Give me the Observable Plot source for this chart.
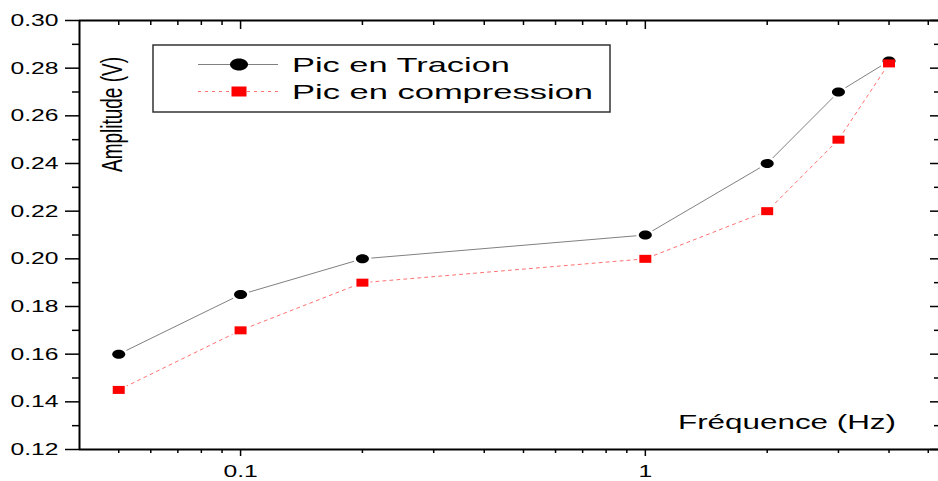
<!DOCTYPE html>
<html><head><meta charset="utf-8">
<script src="https://cdn.jsdelivr.net/npm/d3@7"></script>
<script src="https://cdn.jsdelivr.net/npm/@observablehq/plot@0.6"></script>
<style>body{margin:0;background:#fff}</style>
</head><body><div id="chart"></div>
<script>
const frequencies = [0.05, 0.1, 0.2, 1, 2, 3, 4];
const tractionPeak = [0.160, 0.185, 0.200, 0.210, 0.240, 0.270, 0.283];
const compressionPeak = [0.145, 0.170, 0.190, 0.200, 0.220, 0.250, 0.282];
const seriesNames = ["Pic en Tracion", "Pic en compression"];
const yMajorTicks = [0.12, 0.14, 0.16, 0.18, 0.20, 0.22, 0.24, 0.26, 0.28, 0.30];
const yMinorTicks = [0.13, 0.15, 0.17, 0.19, 0.21, 0.23, 0.25, 0.27, 0.29];
const xMajorTicks = [0.1, 1];
const xTickLabels = ["0.1", "1"];
const xMinorTicks = [0.05, 0.06, 0.07, 0.08, 0.09, 0.2, 0.3, 0.4, 0.5, 0.6, 0.7, 0.8, 0.9, 2, 3, 4, 5];
const xTitle = "Fréquence (Hz)";
const yTitle = "Amplitude (V)";

const W = 938, H = 481, mL = 79, mR = 0, mT = 20, mB = 32;
const FW = W - mL - mR, FH = H - mT - mB;
const xDomain = [0.04, 5.3], yDomain = [0.12, 0.30];
const FONT = "'Liberation Sans', Arial, Helvetica, sans-serif";

function ellipse(rx, ry) {
  const k = 0.5523;
  return {draw(c) {
    c.moveTo(rx, 0);
    c.bezierCurveTo(rx, ry * k, rx * k, ry, 0, ry);
    c.bezierCurveTo(-rx * k, ry, -rx, ry * k, -rx, 0);
    c.bezierCurveTo(-rx, -ry * k, -rx * k, -ry, 0, -ry);
    c.bezierCurveTo(rx * k, -ry, rx, -ry * k, rx, 0);
    c.closePath();
  }};
}
function rectSym(hw, hh) {
  return {draw(c) {
    c.moveTo(-hw, -hh); c.lineTo(hw, -hh); c.lineTo(hw, hh); c.lineTo(-hw, hh); c.closePath();
  }};
}

const traction = frequencies.map((f, i) => ({f, a: tractionPeak[i]}));
const compression = frequencies.map((f, i) => ({f, a: compressionPeak[i]}));

const blackStyle = {stroke: "#808080", strokeWidth: 1};
const redStyle = {stroke: "#ff7070", strokeWidth: 1, strokeDasharray: "3,4"};

const plot = Plot.plot({
  width: W, height: H,
  marginLeft: mL, marginRight: mR, marginTop: mT, marginBottom: mB,
  x: {type: "log", domain: xDomain, axis: null},
  y: {domain: yDomain, axis: null},
  style: {fontFamily: FONT, fontSize: "17px", color: "black", background: "white"},
  marks: [
    Plot.ruleX([xDomain[0]], {stroke: "black", strokeWidth: 2}),
    Plot.ruleY(yDomain, {stroke: "black", strokeWidth: 2}),
    Plot.axisY({ticks: yMajorTicks, tickSize: 14, tickPadding: 7, tickFormat: d => d.toFixed(2), label: null, strokeWidth: 1.5}),
    Plot.tickY(yMinorTicks, {insetLeft: -7, insetRight: FW, stroke: "black", strokeWidth: 1.5}),
    Plot.tickY(yMajorTicks, {insetLeft: FW - 8, stroke: "black", strokeWidth: 1.5}),
    Plot.tickY(yMinorTicks, {insetLeft: FW - 4, stroke: "black", strokeWidth: 1.5}),
    Plot.axisX({ticks: xMajorTicks, tickSize: 7, tickPadding: 8, tickFormat: d => xTickLabels[xMajorTicks.indexOf(d)], label: null, strokeWidth: 1.5}),
    Plot.tickX(xMinorTicks, {insetTop: FH, insetBottom: -4, stroke: "black", strokeWidth: 1.5}),
    Plot.tickX(xMajorTicks, {insetBottom: FH - 9, stroke: "black", strokeWidth: 1.5}),
    Plot.tickX(xMinorTicks, {insetBottom: FH - 5, stroke: "black", strokeWidth: 1.5}),
    Plot.line(compression, {x: "f", y: "a", ...redStyle}),
    Plot.line(traction, {x: "f", y: "a", ...blackStyle}),
    Plot.dot(traction, {x: "f", y: "a", symbol: ellipse(9, 7), fill: "white", r: 5}),
    Plot.dot(compression, {x: "f", y: "a", symbol: rectSym(8, 6), fill: "white", r: 5}),
    Plot.dot(traction, {x: "f", y: "a", symbol: ellipse(6.5, 4.5), fill: "black", r: 5}),
    Plot.dot(compression, {x: "f", y: "a", symbol: rectSym(6, 4), fill: "#ff0000", r: 5})
  ]
});
document.getElementById("chart").appendChild(plot);

// horizontally stretched tick labels, as in the reference
plot.querySelectorAll('g[aria-label$="tick label"] text').forEach(t => {
  const w = t.getComputedTextLength();
  t.setAttribute("textLength", w * 1.45);
  t.setAttribute("lengthAdjust", "spacingAndGlyphs");
});

const svg = d3.select(plot);
// axis titles inside the frame
svg.append("text").attr("x", 678).attr("y", 429).attr("text-anchor", "start")
  .attr("font-family", FONT).attr("font-size", 21)
  .attr("fill", "black").attr("textLength", 218).attr("lengthAdjust", "spacingAndGlyphs").text(xTitle);
svg.append("text").attr("transform", "translate(121.5,114.5) scale(1.6,1) rotate(-90)")
  .attr("text-anchor", "middle").attr("font-family", FONT).attr("font-size", 19).attr("fill", "black").text(yTitle);

// legend
const lg = svg.append("g");
lg.append("rect").attr("x", 153).attr("y", 45).attr("width", 457).attr("height", 67)
  .attr("fill", "white").attr("stroke", "#333").attr("stroke-width", 1.5);
const rows = [
  {y: 64.5, name: seriesNames[0], style: blackStyle, sym: ellipse(9, 6), fill: "black", len: 218},
  {y: 91.5, name: seriesNames[1], style: redStyle, sym: rectSym(7.5, 5), fill: "#ff0000", len: 301}
];
rows.forEach(r => {
  lg.append("line").attr("x1", 198).attr("x2", 278).attr("y1", r.y).attr("y2", r.y)
    .attr("stroke", r.style.stroke).attr("stroke-width", r.style.strokeWidth)
    .attr("stroke-dasharray", r.style.strokeDasharray || null);
  lg.append("path").attr("d", d3.symbol(r.sym, 100)()).attr("transform", `translate(239,${r.y})`).attr("fill", r.fill);
  lg.append("text").attr("x", 292).attr("y", r.y + 7.5).attr("text-anchor", "start")
    .attr("font-family", FONT).attr("font-size", 21)
    .attr("fill", "black").attr("textLength", r.len).attr("lengthAdjust", "spacingAndGlyphs").text(r.name);
});
</script>
</body></html>
